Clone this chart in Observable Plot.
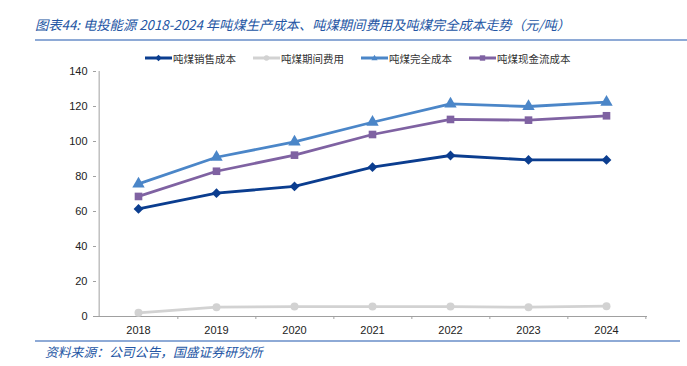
<!DOCTYPE html>
<html>
<head>
<meta charset="utf-8">
<script src="https://cdn.jsdelivr.net/npm/d3@7"></script>
<script src="https://cdn.jsdelivr.net/npm/@observablehq/plot@0.6"></script>
<style>
  html, body { margin: 0; padding: 0; background: #fff; }
  body { width: 687px; height: 366px; position: relative; overflow: hidden; font-family: "Noto Sans CJK SC", sans-serif; }
  #title { position: absolute; left: 35px; top: 15px; font-size: 13.3px; font-style: italic; color: #2456a4; white-space: nowrap; letter-spacing: 0px; }
  #titleLine { position: absolute; left: 35px; top: 39px; width: 652px; height: 0; border-top: 2px solid #8eaad6; }
  #legend { position: absolute; left: 145px; top: 50px; height: 16px; display: flex; align-items: center; font-size: 10.5px; color: #333; white-space: nowrap; }
  .item { display: flex; align-items: center; margin-right: 17px; }
  .item svg { margin-right: 1px; }
  #chart { position: absolute; left: 0; top: 64px; }
  #footLine { position: absolute; left: 35px; top: 340px; width: 645px; height: 0; border-top: 2px solid #8eaad6; }
  #foot { position: absolute; left: 45px; top: 342px; font-size: 12.8px; font-style: italic; color: #2456a4; white-space: nowrap; }
</style>
</head>
<body>
<div id="title">图表44: 电投能源 2018-2024 年吨煤生产成本、吨煤期间费用及吨煤完全成本走势（元/吨）</div>
<div id="titleLine"></div>
<div id="legend"></div>
<div id="chart"></div>
<div id="footLine"></div>
<div id="foot">资料来源：公司公告，国盛证券研究所</div>
<script>
// ---- data ----
const years = ["2018", "2019", "2020", "2021", "2022", "2023", "2024"];
const seriesNames = ["吨煤销售成本", "吨煤期间费用", "吨煤完全成本", "吨煤现金流成本"];
const salesCost = [61.5, 70.5, 74.3, 85.3, 92.0, 89.5, 89.5];
const periodExpense = [2.1, 5.3, 5.7, 5.7, 5.7, 5.3, 5.9];
const fullCost = [75.8, 91.0, 99.8, 111.0, 121.5, 120.0, 122.5];
const cashCost = [68.6, 83.0, 92.2, 104.0, 112.6, 112.2, 114.7];
const yTicks = [0, 20, 40, 60, 80, 100, 120, 140];

// ---- styles ----
const colors = ["#0b3d8f", "#d2d2d2", "#4b86c8", "#7f62a2"];
const symbols = ["diamond2", "circle", "triangle", "square"];
const markerR = [4.4, 4, 4.6, 4.3];
const allValues = [salesCost, periodExpense, fullCost, cashCost];

const W = 687, H = 276, ML = 96, MR = 40, MT = 7, MB = 24;
const step = (W - ML - MR) / years.length;

const rows = allValues.map((vals, s) => years.map((y, i) => ({year: y, value: vals[i], series: seriesNames[s]})));

const marks = [
  Plot.ruleY([0], {stroke: "#a0a0a0", strokeWidth: 1}),
  Plot.ruleX([years[0]], {dx: -step / 2, stroke: "#a0a0a0", strokeWidth: 1}),
  Plot.axisY({ticks: yTicks, tickSize: 3, tickPadding: 6, fontSize: 11, stroke: "#a0a0a0", color: "#222", label: null}),
  Plot.axisX({tickSize: 3, dx: step / 2, tickFormat: () => "", stroke: "#a0a0a0", label: null}),
  Plot.axisX({tickSize: 0, tickPadding: 10, fontSize: 11, color: "#222", label: null})
];
const order = [1, 0, 2, 3];
for (const s of order) {
  marks.push(Plot.lineY(rows[s], {x: "year", y: "value", stroke: colors[s], strokeWidth: 2.8}));
  marks.push(Plot.dot(rows[s], {x: "year", y: "value", fill: colors[s], stroke: "none", symbol: () => symbols[s], r: markerR[s]}));
}

const chart = Plot.plot({
  width: W, height: H,
  marginLeft: ML, marginRight: MR, marginTop: MT, marginBottom: MB,
  style: {fontFamily: "'Liberation Sans', Arial, sans-serif", background: "transparent", color: "#222"},
  x: {type: "point", domain: years, padding: 0.5, axis: null},
  y: {domain: [0, 140], axis: null},
  symbol: {type: "identity"},
  marks
});
document.getElementById("chart").appendChild(chart);

// ---- legend ----
const legend = document.getElementById("legend");
const symPath = {
  diamond2: "M13.5,-3.2 L16.7,0 L13.5,3.2 L10.3,0 Z",
  circle: "M13.5,-2.8 A2.8,2.8 0 1,1 13.49,-2.8 Z",
  triangle: "M13.5,-3.2 L16.6,2.2 L10.4,2.2 Z",
  square: "M10.8,-2.7 L16.2,-2.7 L16.2,2.7 L10.8,2.7 Z"
};
seriesNames.forEach((name, s) => {
  const item = document.createElement("div");
  item.className = "item";
  item.innerHTML = `<svg width="27" height="10" viewBox="0 -5 27 10"><line x1="0" y1="0" x2="27" y2="0" stroke="${colors[s]}" stroke-width="3"/><path d="${symPath[symbols[s]]}" fill="${colors[s]}"/></svg><span>${name}</span>`;
  legend.appendChild(item);
});
</script>
</body>
</html>
